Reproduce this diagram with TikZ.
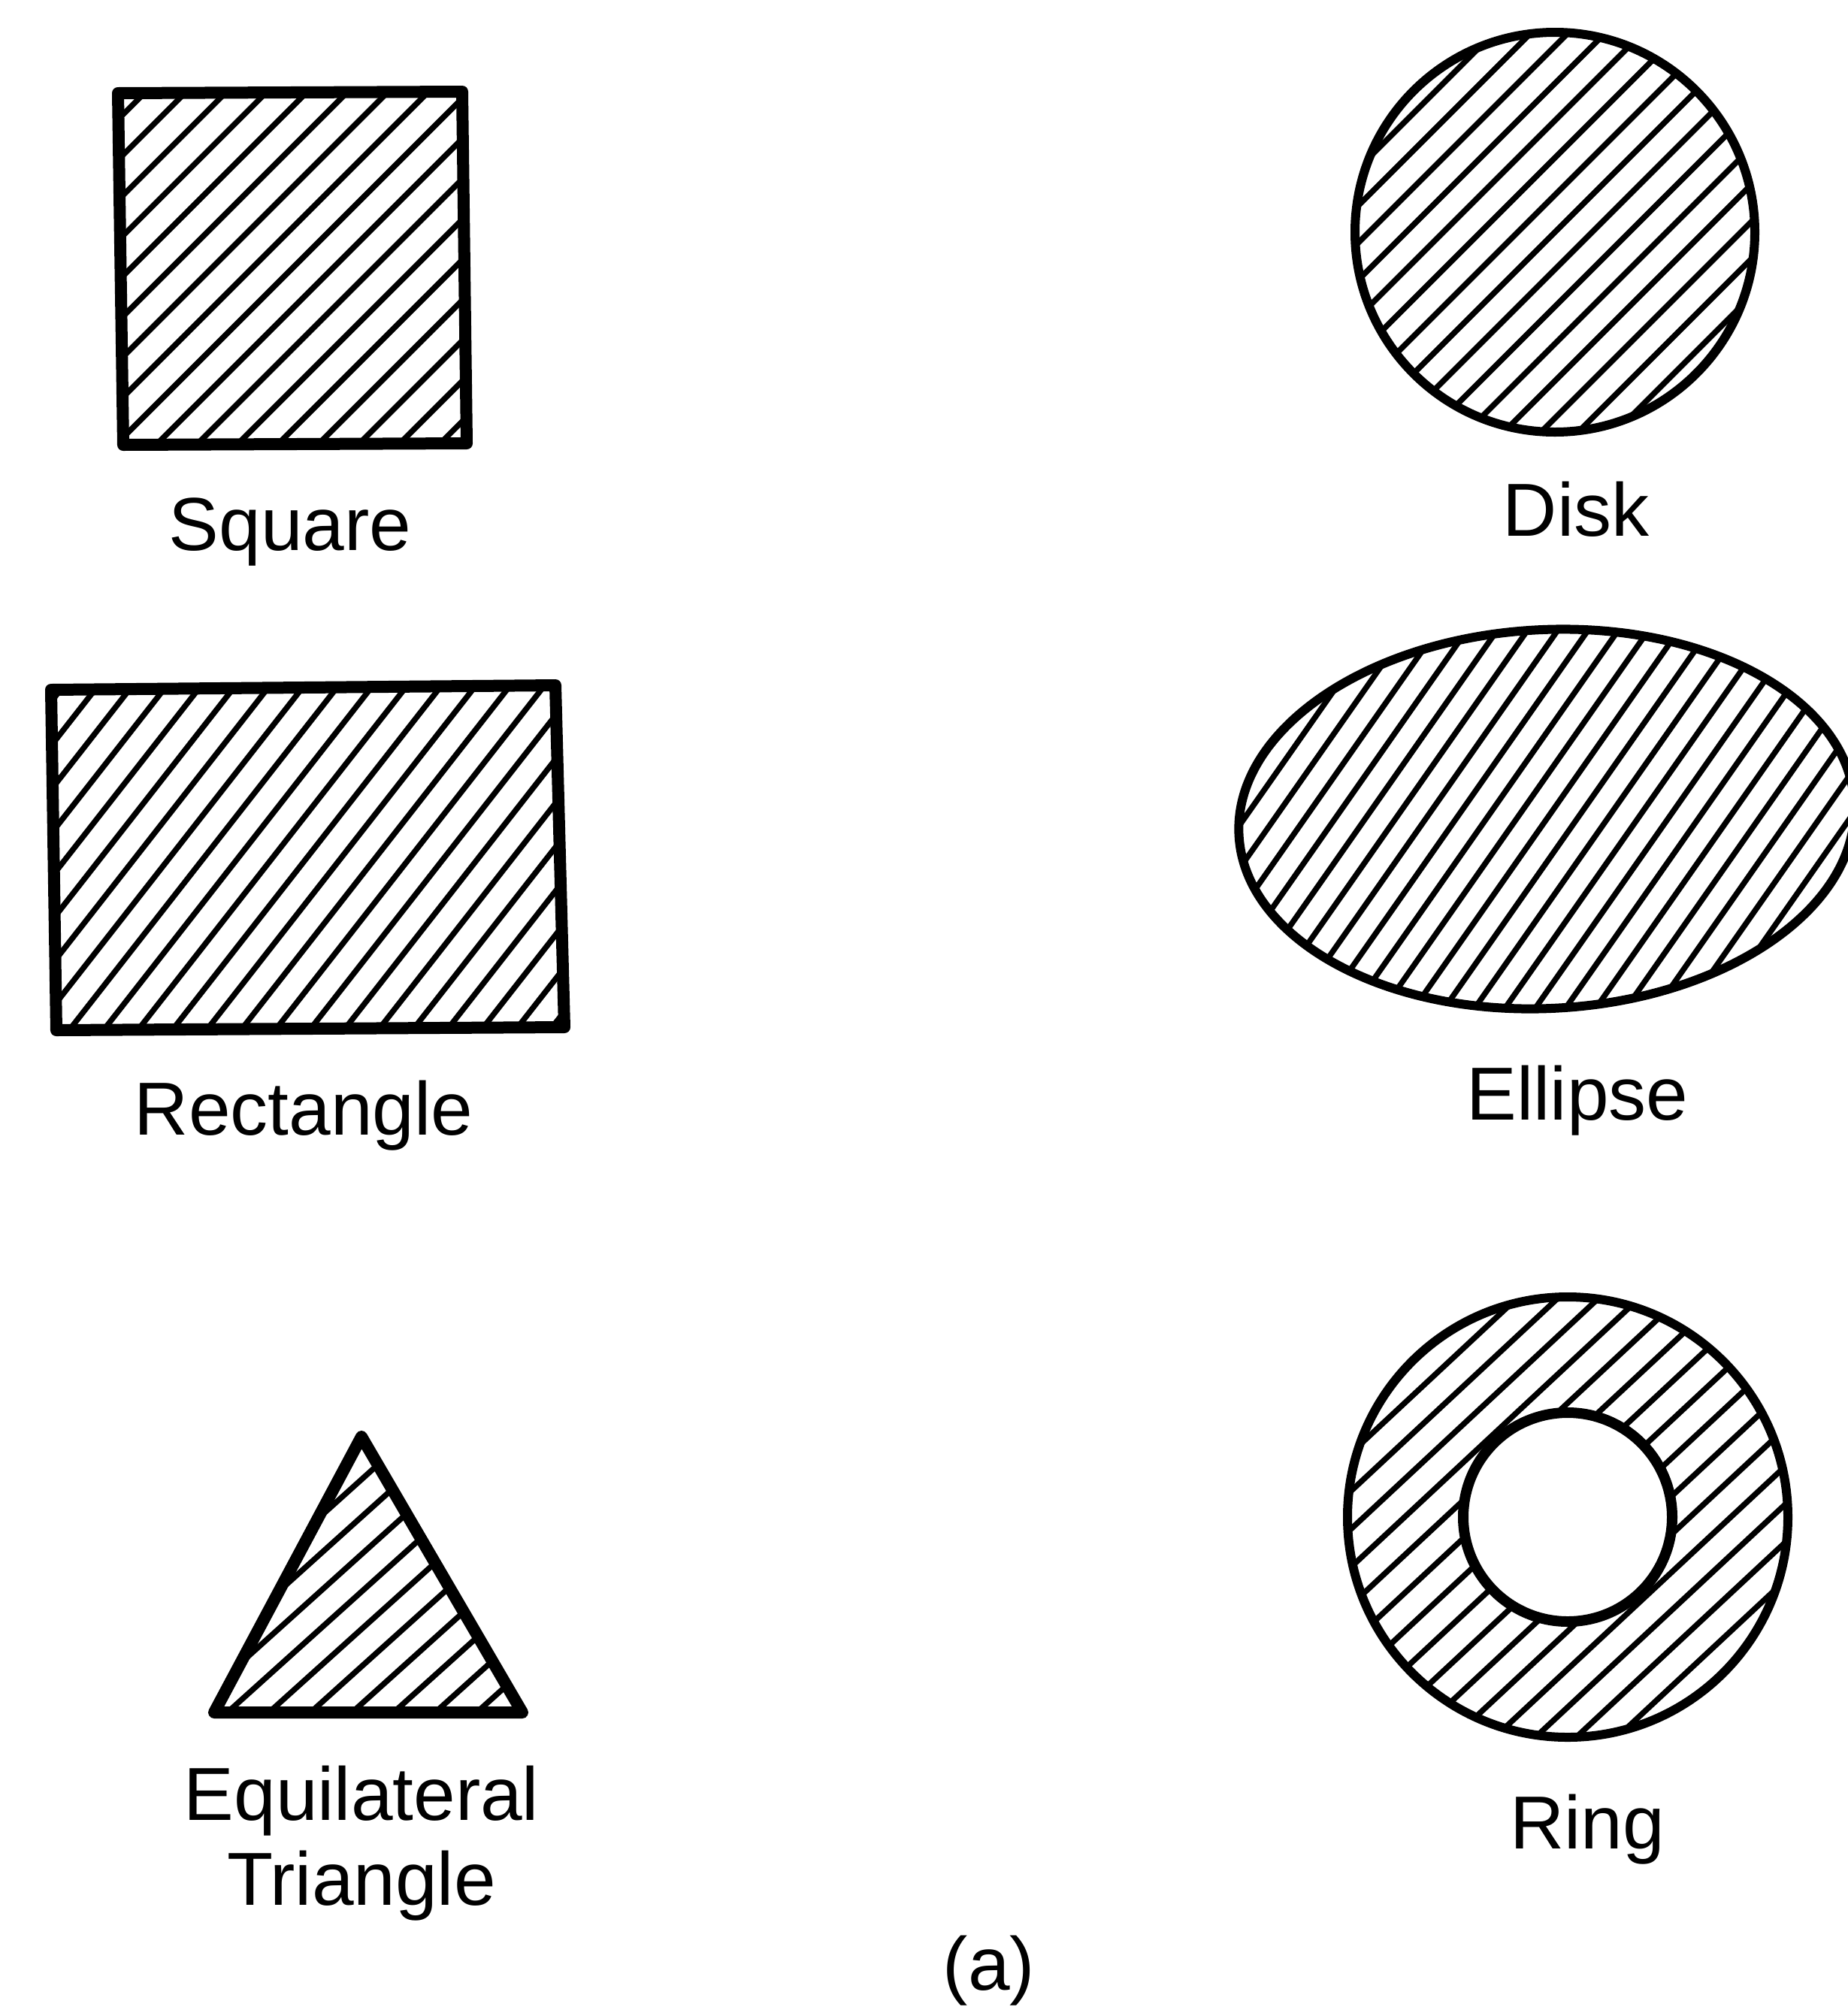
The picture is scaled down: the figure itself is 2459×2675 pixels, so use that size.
\documentclass[tikz,border=0pt]{standalone}
\usepackage{fontspec}
\setmainfont{Liberation Sans}
\begin{document}
\begin{tikzpicture}[x=1pt,y=-1pt,
  outline/.style={line width=16pt, line join=round},
  roundline/.style={line width=12pt},
  hatchline/.style={line width=7.5pt},
  lbl/.style={anchor=base, inner sep=0pt, font=\fontsize{100}{113}\selectfont}]
\useasboundingbox (0,0) rectangle (2459,2675);
\clip (0,0) rectangle (2459,2675);
\fill[white] (0,0) rectangle (2459,2675);

% ---------- Square ----------
\begin{scope}
  \clip (157,124) -- (615,122) -- (621,590) -- (164,592) -- cycle;
  \begin{scope}[shift={(389,357)}, rotate=45]
    \foreach \k in {-10,...,10} \draw[hatchline] (-500,\k*38) -- (500,\k*38);
  \end{scope}
\end{scope}
\draw[outline] (157,124) -- (615,122) -- (621,590) -- (164,592) -- cycle;
\node[lbl] (sq) at (386,732) {Square};

% ---------- Rectangle ----------
\begin{scope}
  \clip (68,918) -- (739,912) -- (751,1367) -- (75,1371) -- cycle;
  \begin{scope}[shift={(408,1142)}, rotate=52]
    \foreach \k in {-14,...,14} \draw[hatchline] (-700,\k*36) -- (700,\k*36);
  \end{scope}
\end{scope}
\draw[outline] (68,918) -- (739,912) -- (751,1367) -- (75,1371) -- cycle;
\node[lbl] (rect) at (404,1510) {Rectangle};

% ---------- Triangle ----------
\begin{scope}
  \clip (481,1912) -- (695,2279) -- (285,2279) -- cycle;
  \begin{scope}[shift={(490,2160)}, rotate=42]
    \foreach \k in {-9,...,9} \draw[hatchline] (-500,\k*37) -- (500,\k*37);
  \end{scope}
\end{scope}
\draw[outline] (481,1912) -- (695,2279) -- (285,2279) -- cycle;
\node[lbl] (eq) at (481,2422) {Equilateral};
\node[lbl] (tri) at (481,2535) {Triangle};

% ---------- Disk ----------
\begin{scope}
  \clip (2069,309) circle [radius=266pt];
  \begin{scope}[shift={(2069,309)}, rotate=45]
    \foreach \k in {-8,...,8} \draw[hatchline] (-400,\k*35) -- (400,\k*35);
  \end{scope}
\end{scope}
\draw[roundline] (2069,309) circle [radius=266pt];
\node[lbl] (disk) at (2097,713) {Disk};

% ---------- Ellipse ----------
\begin{scope}
  \clip[rotate around={3:(2058,1090)}] (2058,1090) ellipse [x radius=410pt, y radius=252pt];
  \begin{scope}[shift={(2058,1090)}, rotate=55]
    \foreach \k in {-14,...,14} \draw[hatchline] (-600,\k*33) -- (600,\k*33);
  \end{scope}
\end{scope}
\draw[roundline, rotate around={3:(2058,1090)}] (2058,1090) ellipse [x radius=410pt, y radius=252pt];
\node[lbl] (ell) at (2099,1490) {Ellipse};

% ---------- Ring ----------
\begin{scope}
  \clip (2086,2019) circle [radius=293pt];
  \begin{scope}[shift={(2086,2019)}, rotate=43]
    \foreach \k in {-9,...,9} \draw[hatchline] (-400,\k*37) -- (400,\k*37);
  \end{scope}
\end{scope}
\fill[white] (2086,2019) circle [radius=139pt];
\draw[roundline] (2086,2019) circle [radius=293pt];
\draw[line width=14pt] (2086,2019) circle [radius=139pt];
\node[lbl] (ring) at (2112,2460) {Ring};

% ---------- caption ----------
\node[lbl] (cap) at (1316,2648) {(a)};
\end{tikzpicture}
\end{document}
